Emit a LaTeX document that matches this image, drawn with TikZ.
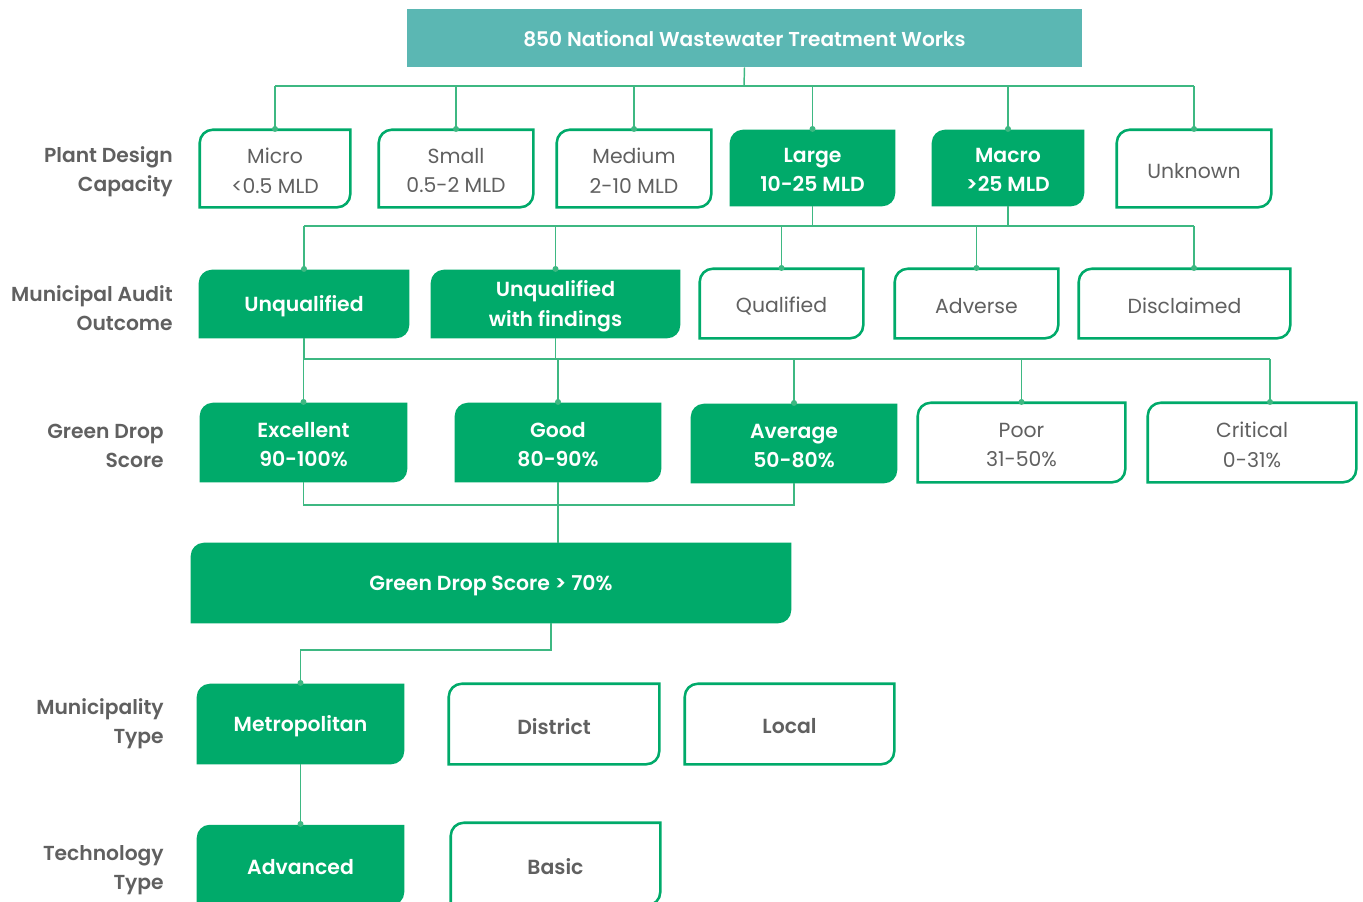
\documentclass[tikz,border=0pt]{standalone}
\usepackage{fontspec}
\setmainfont{Poppins}[BoldFont={Poppins SemiBold}]
\usetikzlibrary{calc,backgrounds,arrows.meta}
\definecolor{tealbox}{RGB}{91,183,179}
\definecolor{gdgreen}{RGB}{0,170,106}
\definecolor{connc}{RGB}{62,184,130}
\definecolor{txtgray}{RGB}{96,96,96}
\newcommand\rr{13}
\newcommand\mkbox[7]{\node[shapenode, minimum width={(#4-#2)*0.75pt}, minimum height={(#5-#3)*0.75pt}] (#1) at ({(#2+#4)/2},{(#3+#5)/2}) {};
  \node[#6] (#1-t) at ($(#1.center)+(0,2.2)$) {#7};}
\newcommand\shp[2]{\path[#2] ($(#1.north west)+(0,\rr)$) .. controls ($(#1.north west)+(0,\rr*0.45)$) and ($(#1.north west)+(\rr*0.45,0)$) .. ($(#1.north west)+(\rr,0)$) -- (#1.north east) -- ($(#1.south east)+(0,-\rr)$) .. controls ($(#1.south east)+(0,-\rr*0.45)$) and ($(#1.south east)+(-\rr*0.45,0)$) .. ($(#1.south east)+(-\rr,0)$) -- (#1.south west) -- cycle;}
\tikzset{
  x=0.75pt, y=-0.75pt,
  shapenode/.style={inner sep=0pt, draw=none},
  boxnode/.style={inner sep=0pt, align=center, font=\fontsize{15.3}{22}\selectfont},
  filltxt/.style={boxnode, text=white, font=\fontsize{15.3}{22}\selectfont\bfseries},
  outtxt/.style={boxnode, text=txtgray},
  outboldtxt/.style={boxnode, text=txtgray, font=\fontsize{15.3}{22}\selectfont\bfseries},
  titletxt/.style={boxnode, text=white, font=\fontsize{15.1}{20}\selectfont\bfseries},
  lbl/.style={align=right, text=txtgray, inner sep=0pt, anchor=east, font=\fontsize{15.2}{22}\selectfont\bfseries},
  fillshape/.style={fill=gdgreen},
  outshape/.style={draw=gdgreen, line width=1.9pt, fill=white},
  conn/.style={draw=connc, line width=1.1pt},
  dot/.style={-{Circle[length=4.4pt,width=4.4pt]}, shorten >=-1.6pt},
}
\begin{document}
\begin{tikzpicture}
\useasboundingbox (0,0) rectangle (1363,901);
% title
\node[shapenode, minimum width={675*0.75pt}, minimum height={58*0.75pt}] (title) at (744.5,38) {};
\node[titletxt] (title-t) at ($(title.center)+(0,0.5)$) {850 National Wastewater Treatment Works};
% left labels
\node[lbl] (l1) at (173,172) {Plant Design\\Capacity};
\node[lbl] (l2) at (173,308) {Municipal Audit\\Outcome};
\node[lbl] (l3) at (164,446) {Green Drop\\Score};
\node[lbl] (l4) at (164,724) {Municipality\\Type};
\node[lbl] (l5) at (164,870) {Technology\\Type};
% row 1
\mkbox{micro}{200}{130}{350}{207}{outtxt}{Micro\\<0.5 MLD}
\mkbox{small}{379}{130}{533}{207}{outtxt}{Small\\0.5-2 MLD}
\mkbox{medium}{557}{130}{711}{207}{outtxt}{Medium\\2-10 MLD}
\mkbox{large}{730}{130}{895}{206}{filltxt}{Large\\10-25 MLD}
\mkbox{macro}{932}{130}{1084}{206}{filltxt}{Macro\\>25 MLD}
\mkbox{unknown}{1117}{130}{1271}{207}{outtxt}{Unknown}
% row 2
\mkbox{unq}{199}{270}{409}{338}{filltxt}{Unqualified}
\mkbox{uwf}{431}{270}{680}{338}{filltxt}{Unqualified\\with findings}
\mkbox{qual}{700}{269}{863}{338}{outtxt}{Qualified}
\mkbox{adv}{895}{269}{1058}{338}{outtxt}{Adverse}
\mkbox{disc}{1079}{269}{1290}{338}{outtxt}{Disclaimed}
% row 3
\mkbox{exc}{200}{403}{407}{482}{filltxt}{Excellent\\90-100\%}
\mkbox{good}{455}{403}{661}{482}{filltxt}{Good\\80-90\%}
\mkbox{avg}{691}{404}{897}{483}{filltxt}{Average\\50-80\%}
\mkbox{poor}{918}{403}{1125}{482}{outtxt}{Poor\\31-50\%}
\mkbox{crit}{1148}{403}{1356}{482}{outtxt}{Critical\\0-31\%}
% green drop
\mkbox{gds}{191}{543}{791}{623}{filltxt}{Green Drop Score > 70\%}
% row 4
\mkbox{metro}{197}{684}{404}{764}{filltxt}{Metropolitan}
\mkbox{district}{449}{684}{659}{764}{outboldtxt}{District}
\mkbox{local}{685}{684}{894}{764}{outboldtxt}{Local}
% row 5
\mkbox{advd}{197}{825}{404}{905}{filltxt}{Advanced}
\mkbox{basic}{451}{823}{660}{905}{outboldtxt}{Basic}

\begin{scope}[on background layer]
\fill[tealbox] (title.north west) rectangle (title.south east);
\foreach \n in {micro,small,medium,unknown,qual,adv,disc,poor,crit,district,local,basic} {\shp{\n}{outshape}}
\foreach \n in {large,macro,unq,uwf,exc,good,avg,gds,metro,advd} {\shp{\n}{fillshape}}
\end{scope}

% connectors level 1
\coordinate (b1) at (744,86);
\draw[conn] (title.south) -- (b1);
\draw[conn] (micro.north |- b1) -- (unknown.north |- b1);
\foreach \n in {micro,small,medium,large,macro,unknown} {\draw[conn,dot] (\n.north |- b1) -- (\n.north);}
% level 2
\coordinate (b2) at (744,226);
\draw[conn] (large.south) -- (large.south |- b2);
\draw[conn] (macro.south) -- (macro.south |- b2);
\draw[conn] (unq.north |- b2) -- (unknown.south |- b2);
\foreach \n in {unq,uwf,qual,adv} {\draw[conn,dot] (\n.north |- b2) -- (\n.north);}
\draw[conn,dot] (unknown.south |- b2) -- (unknown.south |- disc.north);
% level 3
\coordinate (b3) at (744,359);
\coordinate (critdrop) at (1270,359);
\draw[conn] (unq.south) -- (unq.south |- b3);
\draw[conn] (uwf.south) -- (uwf.south |- b3);
\draw[conn] (unq.south |- b3) -- (critdrop);
\foreach \n in {exc,good,avg,poor} {\draw[conn,dot] (\n.north |- b3) -- (\n.north);}
\draw[conn,dot] (critdrop) -- (critdrop |- crit.north);
% merge
\coordinate (b4) at (744,505);
\draw[conn] (exc.south) -- (exc.south |- b4) -- (avg.south |- b4) -- (avg.south);
\draw[conn] (good.south) -- (good.south |- gds.north);
% gds to metro
\coordinate (gdsout) at (551,623);
\draw[conn,dot] (gdsout) -- ++(0,27) -| (metro.north);
\draw[conn,dot] (metro.south) -- (advd.north);
\end{tikzpicture}
\end{document}
